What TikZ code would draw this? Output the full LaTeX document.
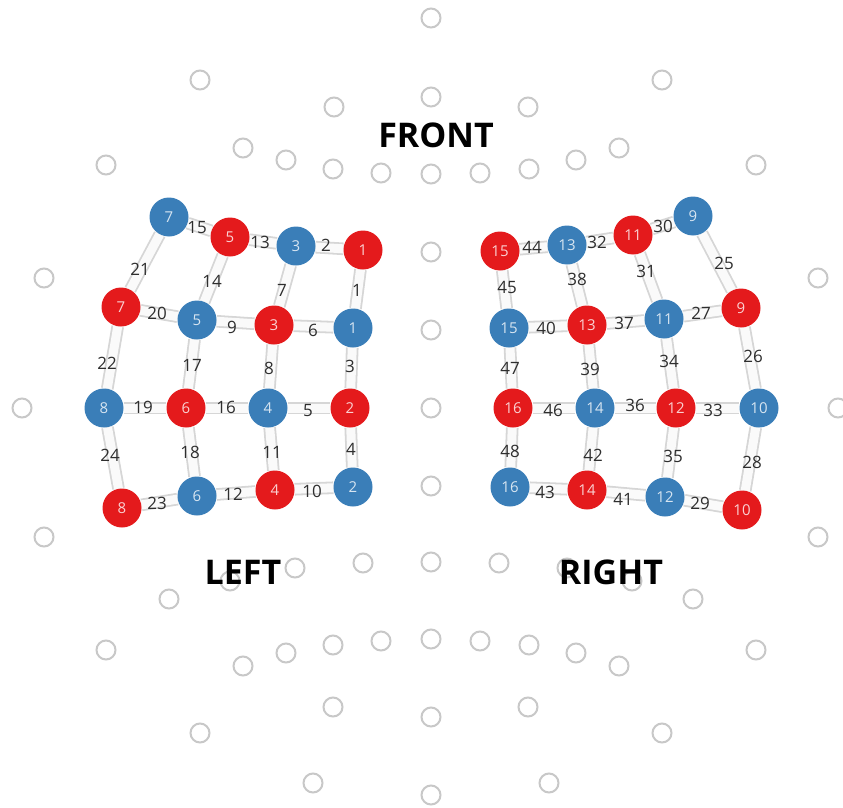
\documentclass[tikz,border=0pt]{standalone}
\usepackage{fontspec}
\setmainfont{Open Sans}
\definecolor{nblue}{HTML}{3A7EB8}
\definecolor{nred}{HTML}{E41A1C}
\definecolor{ering}{HTML}{C8C8C8}
\definecolor{elin}{HTML}{D6D6D6}
\definecolor{lblc}{HTML}{2E2E2E}
\pgfdeclarelayer{bg}
\pgfsetlayers{bg,main}
\tikzset{
  ecirc/.style={circle, draw=ering, line width=2pt, minimum size=19pt, inner sep=0pt, fill=white},
  bnode/.style={circle, fill=nblue, minimum size=39pt, inner sep=0pt, text=nblue!20!white, font=\fontsize{15}{15}\selectfont},
  rnode/.style={circle, fill=nred, minimum size=39pt, inner sep=0pt, text=nred!20!white, font=\fontsize{15}{15}\selectfont},
  connx/.style={draw=elin, line width=1.8pt, double=black!2, double distance=9pt},
  lbl/.style={text=lblc, font=\fontsize{17}{17}\selectfont, inner sep=0pt},
  ttl/.style={font=\fontsize{34}{34}\selectfont\bfseries, text=black}
}
\newcommand\lnk[5]{%
  \begin{pgfonlayer}{bg}\draw[connx] (#1) -- (#2);\end{pgfonlayer}%
  \node[lbl] at (#4,#5) {#3};}
\begin{document}
\begin{tikzpicture}[x=1pt,y=-1pt]
\useasboundingbox (0,0) rectangle (843,808);
% empty electrode positions
\begin{pgfonlayer}{bg}
\foreach \i/\x/\y in {1/431/18, 2/200/80, 3/662/80, 4/334/107, 5/431/97, 6/528/107,
  7/106/165, 8/243/148, 9/286/160, 10/333/169, 11/381/173, 12/431/174, 13/480/173, 14/529/169, 15/576/160, 16/619/148, 17/756/165,
  18/44/278, 19/818/278, 20/431/252, 21/431/330, 22/22/408, 23/838/408, 24/431/408, 25/431/486,
  26/44/537, 27/818/537, 28/295/568, 29/230/581, 30/363/563, 31/431/562, 32/499/563, 33/632/581, 34/567/568,
  35/169/599, 36/693/599, 37/106/650, 38/243/666, 39/286/653, 40/333/645, 41/381/641, 42/431/639, 43/480/641, 44/529/645, 45/576/653, 46/619/666, 47/756/650,
  48/333/707, 49/431/717, 50/528/707, 51/200/733, 52/662/733, 53/313/783, 54/431/795, 55/549/783}
  {\node[ecirc] (e\i) at (\x,\y) {};}
\end{pgfonlayer}
% left cluster
\node[bnode] (LB7) at (169,217) {7};
\node[rnode] (LR5) at (230,237) {5};
\node[bnode] (LB3) at (296,246) {3};
\node[rnode] (LR1) at (363,250) {1};
\node[rnode] (LR7) at (121,307) {7};
\node[bnode] (LB5) at (197,320) {5};
\node[rnode] (LR3) at (274,325) {3};
\node[bnode] (LB1) at (353,328) {1};
\node[bnode] (LB8) at (104,408) {8};
\node[rnode] (LR6) at (186,408) {6};
\node[bnode] (LB4) at (268,408) {4};
\node[rnode] (LR2) at (350,408) {2};
\node[rnode] (LR8) at (122,508) {8};
\node[bnode] (LB6) at (197,496) {6};
\node[rnode] (LR4) at (275,490) {4};
\node[bnode] (LB2) at (353,487) {2};
% right cluster
\node[rnode] (RR15) at (500,251) {15};
\node[bnode] (RB13) at (567,245) {13};
\node[rnode] (RR11) at (633,235) {11};
\node[bnode] (RB9) at (693,216) {9};
\node[bnode] (RB15) at (509,328) {15};
\node[rnode] (RR13) at (587,325) {13};
\node[bnode] (RB11) at (664,319) {11};
\node[rnode] (RR9) at (741,308) {9};
\node[rnode] (RR16) at (513,408) {16};
\node[bnode] (RB14) at (595,408) {14};
\node[rnode] (RR12) at (676,408) {12};
\node[bnode] (RB10) at (759,408) {10};
\node[bnode] (RB16) at (510,487) {16};
\node[rnode] (RR14) at (587,490) {14};
\node[bnode] (RB12) at (665,497) {12};
\node[rnode] (RR10) at (742,510) {10};
% left connectors
\lnk{LR1}{LB1}{1}{357}{290}
\lnk{LB3}{LR1}{2}{326}{245}
\lnk{LB1}{LR2}{3}{350}{366}
\lnk{LR2}{LB2}{4}{351}{449}
\lnk{LB4}{LR2}{5}{308}{411}
\lnk{LR3}{LB1}{6}{313}{330}
\lnk{LB3}{LR3}{7}{282}{290}
\lnk{LR3}{LB4}{8}{269}{368}
\lnk{LB5}{LR3}{9}{232}{327}
\lnk{LR4}{LB2}{10}{312}{491}
\lnk{LB4}{LR4}{11}{272}{452}
\lnk{LB6}{LR4}{12}{233}{494}
\lnk{LR5}{LB3}{13}{260}{242}
\lnk{LR5}{LB5}{14}{212}{281}
\lnk{LB7}{LR5}{15}{197}{228}
\lnk{LR6}{LB4}{16}{226}{407}
\lnk{LB5}{LR6}{17}{192}{365}
\lnk{LR6}{LB6}{18}{190}{452}
\lnk{LB8}{LR6}{19}{143}{407}
\lnk{LR7}{LB5}{20}{157}{313}
\lnk{LB7}{LR7}{21}{140}{269}
\lnk{LR7}{LB8}{22}{107}{363}
\lnk{LB6}{LR8}{23}{157}{503}
\lnk{LB8}{LR8}{24}{110}{455}
% right connectors
\lnk{RB9}{RR9}{25}{724}{263}
\lnk{RR9}{RB10}{26}{753}{356}
\lnk{RB11}{RR9}{27}{701}{313}
\lnk{RB10}{RR10}{28}{752}{462}
\lnk{RB12}{RR10}{29}{700}{503}
\lnk{RR11}{RB9}{30}{663}{226}
\lnk{RR11}{RB11}{31}{646}{271}
\lnk{RB13}{RR11}{32}{597}{242}
\lnk{RR12}{RB10}{33}{713}{410}
\lnk{RB11}{RR12}{34}{669}{361}
\lnk{RR12}{RB12}{35}{673}{456}
\lnk{RB14}{RR12}{36}{635}{405}
\lnk{RR13}{RB11}{37}{624}{323}
\lnk{RB13}{RR13}{38}{577}{279}
\lnk{RR13}{RB14}{39}{590}{369}
\lnk{RB15}{RR13}{40}{546}{328}
\lnk{RR14}{RB12}{41}{623}{499}
\lnk{RB14}{RR14}{42}{593}{455}
\lnk{RB16}{RR14}{43}{545}{492}
\lnk{RR15}{RB13}{44}{532}{247}
\lnk{RR15}{RB15}{45}{507}{287}
\lnk{RR16}{RB14}{46}{553}{410}
\lnk{RB15}{RR16}{47}{510}{368}
\lnk{RR16}{RB16}{48}{510}{451}
% titles
\node[ttl] (front) at (436,135) {FRONT};
\node[ttl] (left) at (243,572) {LEFT};
\node[ttl] (right) at (611,572) {RIGHT};
\end{tikzpicture}
\end{document}
